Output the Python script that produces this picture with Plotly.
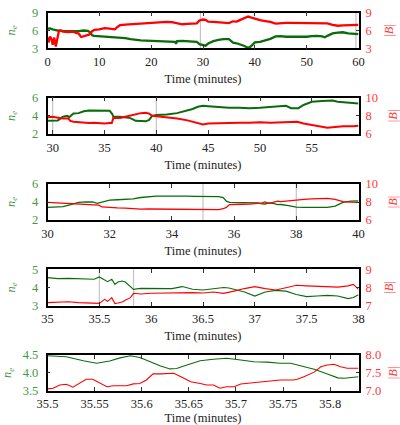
import plotly.graph_objects as go

# ---------------- data ----------------
# Panel 1 : 0 - 60 min
p1_t_ne = [0, 0.5, 1, 1.5, 2, 3, 4, 5, 6, 7, 7.8, 8.3, 8.6, 9, 10, 11, 12, 13, 14, 15, 16, 17, 18, 19, 20,
           21, 22, 23, 24, 24.6, 24.8, 25, 26, 27, 28, 28.8, 29.3, 30, 30.5, 31, 32, 33, 34, 35, 35.8, 36.5,
           37, 37.5, 38, 38.5, 38.8, 39.2, 39.6, 40, 41, 42, 43, 44, 45, 46, 47, 48, 49, 50, 51, 52, 53,
           53.5, 54, 55, 56, 57, 58, 59, 60]
p1_ne = [6.3, 6.35, 6.2, 6.1, 6.0, 5.95, 5.9, 5.95, 5.9, 6.0, 5.95, 5.6, 5.2, 5.1, 5.05, 5.0, 4.9, 4.8, 4.75,
         4.7, 4.55, 4.4, 4.35, 4.3, 4.25, 4.2, 4.15, 4.2, 4.15, 4.1, 3.75, 4.2, 4.25, 4.2, 4.15, 4.1, 3.7,
         3.5, 3.45, 3.8, 4.2, 4.4, 4.55, 4.55, 3.95, 3.85, 3.7, 3.6, 3.4, 3.15, 3.1, 3.3, 3.7, 4.0, 4.1,
         4.3, 4.6, 5.0, 5.05, 4.95, 4.95, 4.9, 4.9, 4.95, 5.05, 5.1, 5.0, 4.85, 5.1, 5.5, 5.65, 5.7, 5.5,
         5.45, 5.4]
p1_t_b = [0, 0.2, 0.5, 0.8, 1.0, 1.3, 1.6, 1.9, 2.2, 2.5, 3, 4, 5, 5.5, 6, 6.5, 7, 7.5, 8, 8.5, 9, 10, 11,
          12, 13, 13.5, 14, 15, 16, 17, 18, 19, 20, 21, 22, 23, 24, 25, 26, 27, 28, 28.8, 29.3, 30, 30.5,
          31, 32, 33, 34, 35, 35.8, 36.5, 37, 38, 38.7, 39.2, 40, 41, 42, 43, 44, 45, 46, 47, 48, 50, 52,
          53, 54, 55, 56, 57, 58, 59, 60]
p1_b = [4.8, 4.0, 5.0, 4.5, 3.6, 4.8, 3.3, 4.5, 5.9, 6.0, 5.8, 5.75, 5.8, 5.6, 5.5, 4.9, 5.0, 5.1, 5.3,
        5.8, 6.1, 6.2, 6.4, 6.3, 6.2, 6.6, 6.9, 7.0, 7.05, 7.1, 7.25, 7.3, 7.35, 7.4, 7.4, 7.45, 7.4, 7.2,
        7.05, 7.1, 7.15, 7.2, 7.7, 7.85, 7.8, 7.5, 7.45, 7.4, 7.4, 7.25, 7.55, 7.5, 7.7, 8.1, 8.35, 8.2,
        7.95, 7.75, 7.6, 7.45, 7.15, 7.25, 7.3, 7.3, 7.3, 7.25, 7.3, 7.3, 7.2, 6.95, 6.8, 6.85, 6.9, 6.85,
        6.95]

# Panel 2 : 29.5 - 59.5 min
p2_t_ne = [29.5, 30, 30.5, 31, 31.4, 31.6, 32, 32.5, 33, 33.5, 34, 34.5, 35, 35.5, 35.75, 35.85, 36.5, 37,
           37.5, 38, 38.5, 39, 39.3, 39.6, 40, 41, 42, 43, 43.5, 44, 44.5, 45, 46, 47, 48, 49, 50, 51, 52,
           52.5, 53, 53.7, 54.2, 55, 56, 57, 57.5, 58, 59, 59.5]
p2_ne = [3.45, 3.45, 3.5, 3.9, 4.0, 3.85, 4.25, 4.3, 4.5, 4.6, 4.6, 4.6, 4.6, 4.55, 4.2, 3.9, 3.9, 3.8,
         3.75, 3.45, 3.4, 3.4, 3.55, 4.0, 4.1, 4.15, 4.3, 4.6, 4.75, 5.0, 5.1, 5.05, 4.95, 4.9, 4.9, 4.85,
         4.9, 5.0, 5.05, 5.1, 4.85, 4.85, 5.2, 5.55, 5.65, 5.7, 5.55, 5.5, 5.4, 5.35]
p2_t_b = [29.5, 30, 30.5, 31, 31.5, 31.7, 32, 32.5, 33, 33.5, 34, 34.5, 35, 35.5, 35.7, 35.85, 36.5, 37,
          37.5, 38, 38.5, 39, 39.3, 39.6, 40, 41, 42, 43, 44, 44.5, 45, 46, 47, 48, 49, 50, 51, 52, 53,
          53.6, 54.2, 55, 55.8, 56.5, 57, 58, 59, 59.5]
p2_b = [7.85, 7.9, 7.8, 7.7, 7.7, 7.45, 7.35, 7.3, 7.2, 7.2, 7.25, 7.2, 7.15, 7.2, 7.2, 7.75, 7.75, 7.9,
        8.05, 8.2, 8.3, 8.35, 8.25, 8.0, 7.95, 7.85, 7.7, 7.5, 7.2, 7.05, 7.15, 7.2, 7.2, 7.25, 7.25, 7.3,
        7.25, 7.3, 7.3, 7.35, 7.15, 7.0, 6.8, 6.7, 6.75, 6.85, 6.85, 6.9]

# Panel 3 : 30 - 40 min
p3_t_ne = [30, 30.25, 30.5, 30.75, 31, 31.25, 31.45, 31.6, 31.75, 32, 32.25, 32.5, 32.75, 33, 33.25, 33.5,
           33.75, 34, 34.25, 34.5, 34.75, 35, 35.25, 35.5, 35.65, 35.75, 35.85, 36, 36.25, 36.5, 36.75,
           36.9, 37.0, 37.1, 37.25, 37.4, 37.5, 37.75, 38, 38.25, 38.5, 38.75, 39, 39.25, 39.5, 39.75, 40]
p3_ne = [3.4, 3.42, 3.48, 3.7, 3.95, 4.02, 4.0, 3.85, 3.95, 4.2, 4.25, 4.3, 4.35, 4.5, 4.6, 4.65, 4.65,
         4.67, 4.65, 4.65, 4.63, 4.62, 4.62, 4.6, 4.5, 4.1, 3.95, 3.95, 3.95, 3.92, 3.9, 3.8, 3.78, 3.9,
         3.85, 3.7, 3.72, 3.6, 3.42, 3.4, 3.38, 3.38, 3.4, 3.55, 3.95, 4.1, 4.12]
p3_t_b = [30, 30.25, 30.5, 30.75, 31, 31.25, 31.5, 31.65, 31.75, 32, 32.25, 32.5, 32.75, 33, 33.25, 33.5,
          33.75, 34, 34.25, 34.5, 34.75, 35, 35.25, 35.5, 35.65, 35.75, 35.85, 36, 36.25, 36.5, 36.75,
          36.9, 37, 37.1, 37.25, 37.4, 37.5, 37.75, 38, 38.25, 38.5, 38.75, 39, 39.25, 39.5, 39.75, 40]
p3_b = [7.95, 7.9, 7.85, 7.78, 7.75, 7.72, 7.7, 7.65, 7.45, 7.38, 7.35, 7.33, 7.25, 7.2, 7.22, 7.22, 7.2,
        7.22, 7.2, 7.2, 7.15, 7.15, 7.17, 7.15, 7.25, 7.4, 7.72, 7.75, 7.75, 7.76, 7.8, 7.9, 8.0, 7.85,
        7.95, 8.1, 8.05, 8.15, 8.2, 8.3, 8.35, 8.38, 8.4, 8.3, 8.05, 7.98, 7.95]

# Panel 4 : 35 - 38 min
p4_t = [35.0, 35.1, 35.2, 35.3, 35.4, 35.45, 35.5, 35.55, 35.58, 35.62, 35.65, 35.68, 35.72, 35.75, 35.8,
        35.83, 35.9, 36.0, 36.2, 36.3, 36.4, 36.5, 36.6, 36.7, 36.75, 36.8, 36.9, 37.0, 37.1, 37.2, 37.3,
        37.4, 37.5, 37.6, 37.7, 37.8, 37.9, 37.95, 38.0]
p4_ne = [4.54, 4.49, 4.5, 4.49, 4.45, 4.45, 4.58, 4.41, 4.32, 4.45, 4.17, 4.3, 4.36, 4.3, 4.08, 3.9, 3.95,
         3.94, 3.94, 4.05, 3.9, 3.86, 3.93, 4.0, 3.97, 3.9, 3.75, 3.53, 3.75, 3.84, 3.8, 3.62, 3.5, 3.53,
         3.57, 3.53, 3.39, 3.45, 3.6]
p4_b = [7.17, 7.2, 7.22, 7.17, 7.17, 7.15, 7.13, 7.35, 7.24, 7.44, 7.12, 7.15, 7.2, 7.3, 7.44, 7.68, 7.64,
        7.68, 7.72, 7.7, 7.72, 7.7, 7.75, 7.68, 7.72, 7.8, 7.94, 8.05, 7.94, 7.86, 7.99, 8.12, 8.09, 8.06,
        8.06, 8.02, 8.09, 8.17, 7.9]

# Panel 5 : 35.5 - 35.83 min
p5_t_ne = [35.5, 35.52, 35.538, 35.552, 35.566, 35.577, 35.588, 35.598, 35.609, 35.62, 35.63, 35.637,
           35.648, 35.662, 35.676, 35.69, 35.705, 35.719, 35.733, 35.747, 35.758, 35.768, 35.783, 35.797,
           35.808, 35.815, 35.826, 35.83]
p5_ne = [4.48, 4.45, 4.34, 4.27, 4.33, 4.42, 4.48, 4.43, 4.31, 4.19, 4.11, 4.12, 4.22, 4.34, 4.38, 4.41,
         4.36, 4.31, 4.3, 4.27, 4.27, 4.2, 4.1, 3.97, 3.86, 3.85, 3.89, 3.89]
p5_t_b = [35.5, 35.506, 35.513, 35.52, 35.527, 35.534, 35.541, 35.548, 35.556, 35.563, 35.57, 35.577,
          35.584, 35.591, 35.598, 35.605, 35.612, 35.62, 35.627, 35.634, 35.641, 35.652, 35.662, 35.669,
          35.676, 35.683, 35.69, 35.698, 35.705, 35.719, 35.733, 35.747, 35.761, 35.765, 35.772, 35.783,
          35.79, 35.797, 35.804, 35.811, 35.818, 35.826, 35.83]
p5_b = [7.05, 7.07, 7.16, 7.18, 7.1, 7.22, 7.32, 7.32, 7.22, 7.11, 7.14, 7.14, 7.14, 7.19, 7.2, 7.3, 7.47,
        7.47, 7.47, 7.49, 7.4, 7.25, 7.2, 7.16, 7.16, 7.07, 7.11, 7.11, 7.19, 7.22, 7.25, 7.3, 7.3, 7.32,
        7.39, 7.52, 7.67, 7.72, 7.74, 7.67, 7.63, 7.63, 7.63]

# axis settings (ranges and ticks)
x_ranges = [[0, 60], [29.5, 59.5], [30, 40], [35, 38], [35.5, 35.83]]
x_dticks = [10, 5, 2, 0.5, 0.05]
x_tick0 = [0, 30, 30, 35, 35.5]
ne_ranges = [[3, 9], [2, 6], [2, 6], [3, 5], [3.5, 4.5]]
ne_dticks = [3, 2, 2, 1, 0.5]
b_ranges = [[3, 9], [6, 10], [6, 10], [7, 9], [7.0, 8.0]]
b_dticks = [3, 2, 2, 1, 0.5]
tickfmt = ["", "", "", "", ".1f"]
window_lines = [[29.5, 59.5], [30, 40], [35, 38], [35.5, 35.83], []]
line_widths = [2.3, 2.0, 1.3, 1.1, 1.1]

panels = [
    (p1_t_ne, p1_ne, p1_t_b, p1_b),
    (p2_t_ne, p2_ne, p2_t_b, p2_b),
    (p3_t_ne, p3_ne, p3_t_b, p3_b),
    (p4_t, p4_ne, p4_t, p4_b),
    (p5_t_ne, p5_ne, p5_t_b, p5_b),
]

# ---------------- layout geometry ----------------
W, H = 400, 425
x_left, x_right = 47.5, 358.5
tops = [12.7, 97.7, 184.0, 269.3, 355.0]
bots = [48.3, 134.0, 220.0, 305.7, 390.7]

GREEN_LINE = "#0b6b0b"
GREEN_TXT = "#3f9a3f"
RED_LINE = "#ff0000"
RED_TXT = "#ff3a3a"
FONT = "Liberation Serif"
FS = 12.5

fig = go.Figure()
layout = dict(
    width=W, height=H,
    margin=dict(l=0, r=0, t=0, b=0),
    paper_bgcolor="white", plot_bgcolor="white",
    showlegend=False,
    font=dict(family=FONT, size=FS, color="#222"),
    shapes=[],
)

for i, (tn, ne, tb, bb) in enumerate(panels):
    k = i + 1
    xa = "x" if k == 1 else f"x{k}"
    yl_id = 2 * k - 1
    yr_id = 2 * k
    yl = "y" if yl_id == 1 else f"y{yl_id}"
    yr = f"y{yr_id}"
    fig.add_trace(go.Scatter(x=tn, y=ne, mode="lines", xaxis=xa, yaxis=yl,
                             line=dict(color=GREEN_LINE, width=line_widths[i])))
    fig.add_trace(go.Scatter(x=tb, y=bb, mode="lines", xaxis=xa, yaxis=yr,
                             line=dict(color=RED_LINE, width=line_widths[i])))
    dom_y = [1 - bots[i] / H, 1 - tops[i] / H]
    xkey = "xaxis" if k == 1 else f"xaxis{k}"
    ylkey = "yaxis" if yl_id == 1 else f"yaxis{yl_id}"
    yrkey = f"yaxis{yr_id}"
    layout[xkey] = dict(
        domain=[x_left / W, x_right / W], anchor=yl, range=x_ranges[i],
        tick0=x_tick0[i], dtick=x_dticks[i], ticks="inside", ticklen=4, tickwidth=1,
        tickcolor="#333", showline=True, linecolor="black", linewidth=1.5, mirror="ticks",
        showgrid=False, zeroline=False, automargin=False, ticklabelstandoff=1,
        tickfont=dict(family=FONT, size=FS, color="#222"),
        title=dict(text="Time (minutes)", font=dict(family=FONT, size=FS, color="#222"), standoff=6),
    )
    layout[ylkey] = dict(
        domain=dom_y, anchor=xa, range=ne_ranges[i], dtick=ne_dticks[i], tick0=ne_ranges[i][0],
        tickformat=tickfmt[i], ticks="inside", ticklen=3, tickcolor="#333",
        showline=True, linecolor="black", linewidth=1.5, mirror=True,
        showgrid=False, zeroline=False, automargin=False, ticklabelstandoff=5,
        tickfont=dict(family=FONT, size=FS, color=GREEN_TXT),
        title=dict(text="<i>n</i><sub><i>e</i></sub>", font=dict(family=FONT, size=FS, color=GREEN_TXT),
                   standoff=14),
    )
    layout[yrkey] = dict(
        domain=dom_y, anchor=xa, overlaying=yl, side="right", range=b_ranges[i], dtick=b_dticks[i],
        tick0=b_ranges[i][0], tickformat=tickfmt[i], ticks="inside", ticklen=3, tickcolor="#333",
        showline=False, showgrid=False, zeroline=False, automargin=False, ticklabelstandoff=6,
        tickfont=dict(family=FONT, size=FS, color=RED_TXT),
        title=dict(text="|<i>B</i>|", font=dict(family=FONT, size=FS, color=RED_TXT), standoff=13),
    )
    for xv in window_lines[i]:
        layout["shapes"].append(dict(type="line", xref=xa, yref=f"{yl} domain", x0=xv, x1=xv, y0=0, y1=1,
                                     line=dict(color="#c4c4c4", width=1.2), layer="below"))

fig.update_layout(**layout)
fig.write_html("out.html")
